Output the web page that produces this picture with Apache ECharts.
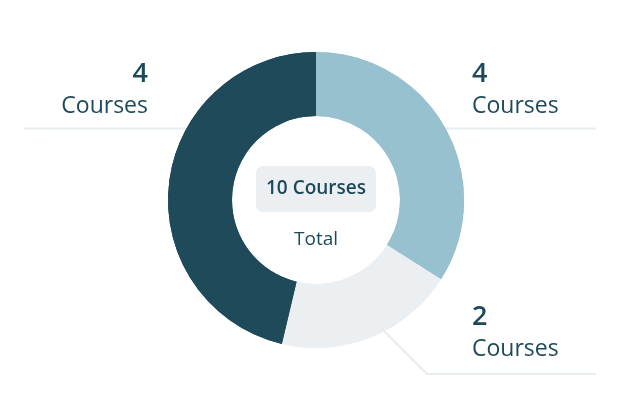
<!DOCTYPE html>
<html><head><meta charset="utf-8">
<script src="https://cdn.jsdelivr.net/npm/echarts@6/dist/echarts.min.js"></script>
<style>html,body{margin:0;padding:0;background:#fff}#c{width:632px;height:400px}</style>
</head><body><div id="c"></div>
<script>
// ---- data ----
const categories = ['Completed', 'In Progress', 'Not Started'];
const courseCounts = [4, 2, 4];          // numbers shown in the labels
const sliceShares = [34, 19.7, 46.3];    // slice sizes as drawn (percent of ring)
const colors = ['#97c1ce', '#eceff2', '#1e4a5a'];
const unitLabel = 'Courses';
const totalLabel = 'Total';

// ---- layout ----
const W = 632, H = 400;
const cx = W / 2, cy = H / 2, R = 148, r = 84;
const edgeL = 24, edgeR = 596;
const labelSpots = [
  { side: 'right', lineY: 128.5, gap: 7, bend: false },
  { side: 'right', lineY: 374, gap: 10, bend: true },
  { side: 'left', lineY: 128.5, gap: 7, bend: false }
];
const textColor = '#1d4a5a';
const lineColor = '#e8edf0';
const font = '"Open Sans", sans-serif';

const total = courseCounts.reduce((a, b) => a + b, 0);
const data = categories.map((c, i) => ({ name: c, value: sliceShares[i], count: courseCounts[i], itemStyle: { color: colors[i] } }));

const chart = echarts.init(document.getElementById('c'), null, { renderer: 'canvas' });

function layout(p) {
  const s = labelSpots[p.dataIndex];
  const y = s.lineY;
  let pts;
  if (s.side === 'right') {
    if (s.bend) {
      const bx = 427;
      const sx = bx - 67;
      pts = [[sx, y - 67], [bx, y], [edgeR, y]];
    } else {
      pts = [[cx + 100, y], [cx + 100, y], [edgeR, y]];
    }
    return { x: 472, y: y - s.gap, align: 'left', verticalAlign: 'bottom', labelLinePoints: pts };
  } else {
    pts = [[cx - 100, y], [cx - 100, y], [edgeL, y]];
    return { x: 148, y: y - s.gap, align: 'right', verticalAlign: 'bottom', labelLinePoints: pts };
  }
}

chart.setOption({
  animation: false,
  backgroundColor: '#fff',
  series: [
    {
      type: 'pie', z: 1, silent: true,
      center: [cx, cy], radius: [r, R],
      startAngle: 90, clockwise: true,
      avoidLabelOverlap: false,
      data: data,
      label: {
        show: true,
        formatter: p => '{n|' + p.data.count + '}\n{t|' + unitLabel + '}',
        rich: {
          n: { fontFamily: font, fontSize: 27, fontWeight: 600, color: textColor, lineHeight: 34 },
          t: { fontFamily: font, fontSize: 23, color: textColor, lineHeight: 30 }
        }
      },
      labelLine: { show: true, lineStyle: { color: lineColor, width: 2 }, length: 10, length2: 10 },
      labelLayout: layout
    },
    {
      type: 'pie', z: 2, silent: true,
      center: [cx, cy], radius: [r, R],
      startAngle: 90, clockwise: true,
      data: data,
      label: { show: false }, labelLine: { show: false }
    }
  ],
  graphic: [
    {
      type: 'text', left: 'center', top: 166, z: 10,
      style: {
        text: total + ' ' + unitLabel,
        font: '600 19px ' + font,
        lineHeight: 24,
        fill: textColor,
        backgroundColor: '#eceff2',
        padding: [11, 10, 11, 10],
        borderRadius: 7
      }
    },
    {
      type: 'text', left: 'center', top: 230, z: 10,
      style: { text: totalLabel, font: '19px ' + font, fill: textColor }
    }
  ]
});
</script>
</body></html>
